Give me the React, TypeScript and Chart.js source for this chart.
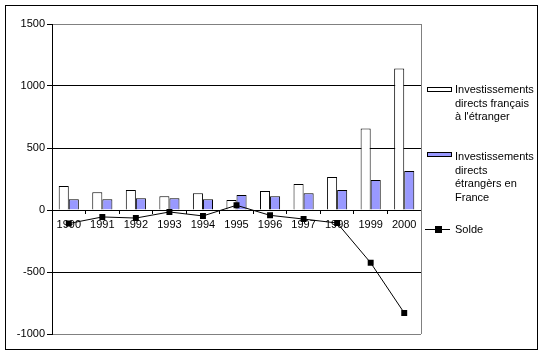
import React, { useEffect, useRef } from "react";
import { Chart, registerables } from "chart.js";

Chart.register(...registerables);

const years = ["1990", "1991", "1992", "1993", "1994", "1995", "1996", "1997", "1998", "1999", "2000"];
const idFrancais = [193, 144, 161, 111, 136, 80, 153, 209, 266, 658, 1142];
const idEtrangers = [87, 87, 95, 95, 87, 120, 111, 136, 161, 242, 314];
const solde = [-109, -56, -65, -16, -48, 38, -43, -73, -105, -426, -830];
const legendFrancais = ["Investissements", "directs français", "à l'étranger"];
const legendEtrangers = ["Investissements", "directs", "étrangèrs en", "France"];
const legendSolde = ["Solde"];

const FONT = "11px 'Liberation Sans', Arial, sans-serif";
const BLUE = "#9999ff";

const framePlugin = {
  id: "frame",
  beforeDraw(chart: any) {
    const ctx = chart.ctx;
    ctx.save();
    ctx.fillStyle = "#ffffff";
    ctx.fillRect(0, 0, chart.width, chart.height);
    ctx.restore();
  },
  afterDatasetsDraw(chart: any) {
    const ctx = chart.ctx;
    const a = chart.chartArea;
    ctx.save();
    ctx.strokeStyle = "#808080";
    ctx.lineWidth = 1;
    ctx.beginPath();
    ctx.moveTo(Math.round(a.right) + 0.5, a.top);
    ctx.lineTo(Math.round(a.right) + 0.5, a.bottom);
    ctx.stroke();
    ctx.restore();
  },
  afterDraw(chart: any) {
    const ctx = chart.ctx;
    ctx.save();
    ctx.strokeStyle = "#000000";
    ctx.lineWidth = 1;
    ctx.strokeRect(5.5, 5.5, 532, 344);
    ctx.font = FONT;
    ctx.fillStyle = "#000000";
    ctx.textBaseline = "middle";
    ctx.textAlign = "left";
    const lineH = 13.7;
    const drawLines = (lines: string[], y0: number) => {
      lines.forEach((t, i) => ctx.fillText(t, 455, y0 + i * lineH));
    };
    ctx.fillStyle = "#ffffff";
    ctx.fillRect(427, 87, 24, 4);
    ctx.strokeStyle = "#000000";
    ctx.strokeRect(427.5, 87.5, 24, 4);
    ctx.fillStyle = "#000000";
    drawLines(legendFrancais, 90);
    ctx.fillStyle = BLUE;
    ctx.fillRect(427, 152, 24, 4);
    ctx.strokeRect(427.5, 152.5, 24, 4);
    ctx.fillStyle = "#000000";
    drawLines(legendEtrangers, 157);
    ctx.beginPath();
    ctx.moveTo(425, 229.5);
    ctx.lineTo(450, 229.5);
    ctx.stroke();
    ctx.fillRect(435, 226, 7, 7);
    drawLines(legendSolde, 229.5);
    ctx.restore();
  },
};

export default function App() {
  const ref = useRef<HTMLCanvasElement>(null);
  useEffect(() => {
    if (!ref.current) return;
    const chart = new Chart(ref.current, {
      type: "bar",
      data: {
        labels: years,
        datasets: [
          {
            type: "bar",
            label: "Investissements directs français à l'étranger",
            data: idFrancais,
            backgroundColor: "#ffffff",
            borderColor: "#000000",
            borderWidth: 1,
            order: 1,
            categoryPercentage: 0.6,
            barPercentage: 1,
          },
          {
            type: "bar",
            label: "Investissements directs étrangèrs en France",
            data: idEtrangers,
            backgroundColor: BLUE,
            borderColor: "#000000",
            borderWidth: 1,
            order: 1,
            categoryPercentage: 0.6,
            barPercentage: 1,
          },
          {
            type: "line",
            label: "Solde",
            data: solde,
            borderColor: "#000000",
            borderWidth: 1,
            pointStyle: "rect",
            pointRadius: 4.2,
            pointBackgroundColor: "#000000",
            pointBorderWidth: 0,
            tension: 0,
            order: 0,
          } as any,
        ],
      },
      options: {
        responsive: false,
        animation: false,
        events: [],
        layout: { padding: { left: 5, top: 24, right: 123, bottom: 20 } },
        plugins: {
          legend: { display: false },
          tooltip: { enabled: false },
        },
        scales: {
          x: {
            position: { y: 0 } as any,
            afterFit: (s: any) => {
              s.height = 0;
            },
            grid: {
              display: true,
              drawOnChartArea: false,
              drawTicks: true,
              tickLength: 3,
              color: "#000000",
              offset: true,
            },
            border: { display: true, color: "#000000", width: 1 },
            ticks: {
              color: "#000000",
              font: { family: "'Liberation Sans', Arial, sans-serif", size: 11 },
              padding: 5,
              maxRotation: 0,
              autoSkip: false,
            },
          },
          y: {
            min: -1000,
            max: 1500,
            afterFit: (s: any) => {
              s.width = 47;
            },
            grid: {
              color: (c: any) =>
                c.tick && (c.tick.value === 1500 || c.tick.value === -1000) ? "#808080" : "#000000",
              tickColor: "#000000",
              tickLength: 5,
              lineWidth: 1,
            },
            border: { display: true, color: "#000000", width: 1 },
            ticks: {
              stepSize: 500,
              color: "#000000",
              padding: 2,
              callback: (v: any) => String(v),
              font: { family: "'Liberation Sans', Arial, sans-serif", size: 11 },
            },
          },
        },
      },
      plugins: [framePlugin],
    });
    return () => chart.destroy();
  }, []);
  return (
    <div style={{ position: "absolute", left: 0, top: 0, width: 544, height: 354 }}>
      <canvas ref={ref} width={544} height={354} />
    </div>
  );
}
